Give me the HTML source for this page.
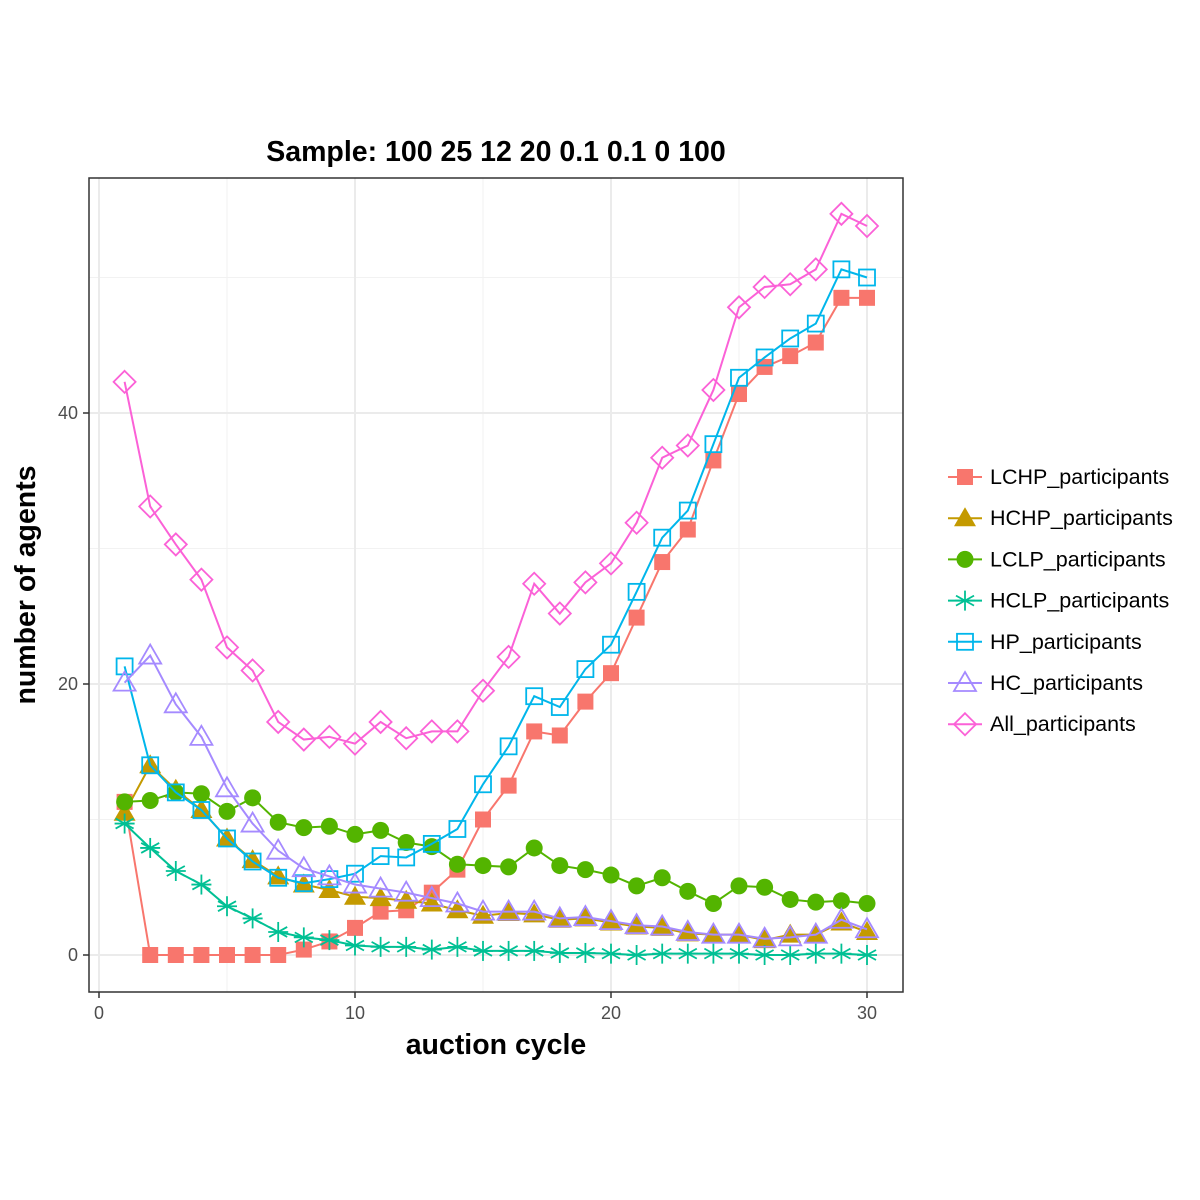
<!DOCTYPE html>
<html><head><meta charset="utf-8"><style>
html,body{margin:0;padding:0;background:#fff;}
svg{display:block;font-family:"Liberation Sans",sans-serif;}
</style></head><body>
<svg id="chart" width="1200" height="1200" viewBox="0 0 1200 1200" xmlns="http://www.w3.org/2000/svg">
<rect width="1200" height="1200" fill="#fff"/>
<g id="grid"></g>
<g id="series"></g>
<rect x="89" y="178" width="814" height="814" fill="none" stroke="#333" stroke-width="1.5"/>
<g id="axes"></g>
<text x="496" y="161" text-anchor="middle" font-size="28.5" font-weight="bold">Sample: 100 25 12 20 0.1 0.1 0 100</text>
<text x="496" y="1054" text-anchor="middle" font-size="28.5" font-weight="bold">auction cycle</text>
<text transform="translate(35,585) rotate(-90)" text-anchor="middle" font-size="28.5" font-weight="bold">number of agents</text>
<g id="legend"></g>
</svg>
<script>
const cycles = [1,2,3,4,5,6,7,8,9,10,11,12,13,14,15,16,17,18,19,20,21,22,23,24,25,26,27,28,29,30];
const lchp = [11.3,0,0,0,0,0,0,0.4,1.0,2.0,3.2,3.3,4.6,6.3,10.0,12.5,16.5,16.2,18.7,20.8,24.9,29.0,31.4,36.5,41.4,43.4,44.2,45.2,48.5,48.5];
const hchp = [10.5,14.0,12.2,10.7,8.6,7.0,5.8,5.2,4.8,4.3,4.2,4.0,3.8,3.3,2.9,3.1,3.0,2.6,2.7,2.4,2.1,2.0,1.6,1.5,1.5,1.1,1.5,1.5,2.4,1.7];
const lclp = [11.3,11.4,12.0,11.9,10.6,11.6,9.8,9.4,9.5,8.9,9.2,8.3,8.0,6.7,6.6,6.5,7.9,6.6,6.3,5.9,5.1,5.7,4.7,3.8,5.1,5.0,4.1,3.9,4.0,3.8];
const hclp = [9.7,7.9,6.2,5.2,3.6,2.7,1.7,1.3,1.1,0.7,0.6,0.6,0.4,0.6,0.3,0.3,0.3,0.15,0.15,0.1,0,0.1,0.1,0.1,0.1,0,0,0.1,0.1,0];
const hp = [21.3,14.0,12.0,10.7,8.6,6.9,5.7,5.3,5.6,6.0,7.3,7.2,8.2,9.3,12.6,15.4,19.1,18.3,21.1,22.9,26.8,30.8,32.8,37.7,42.6,44.1,45.5,46.6,50.6,50.0];
const hc = [20.1,22.1,18.5,16.1,12.3,9.7,7.7,6.4,5.8,5.2,4.9,4.6,4.2,3.8,3.2,3.2,3.2,2.7,2.8,2.5,2.2,2.1,1.7,1.5,1.5,1.2,1.3,1.5,2.6,1.9];
const allp = [42.3,33.1,30.3,27.7,22.7,21.0,17.2,15.9,16.1,15.6,17.2,16.0,16.5,16.5,19.5,22.0,27.4,25.2,27.5,28.9,31.9,36.7,37.6,41.7,47.8,49.3,49.5,50.6,54.7,53.8];
const seriesNames = ["LCHP_participants","HCHP_participants","LCLP_participants","HCLP_participants","HP_participants","HC_participants","All_participants"];
const xTicks = [0,10,20,30];
const yTicks = [0,20,40];
const xMinor = [5,15,25];
const yMinor = [10,30,50];

const NS="http://www.w3.org/2000/svg";
const X = v => 99 + v*25.6;
const Y = v => 955 - v*13.55;
function mk(tag, attrs, parent){const e=document.createElementNS(NS,tag);for(const k in attrs)e.setAttribute(k,attrs[k]);parent.appendChild(e);return e;}
const grid=document.getElementById('grid'), axes=document.getElementById('axes'), ser=document.getElementById('series'), leg=document.getElementById('legend');

xMinor.forEach(v=>{const l=mk('line',{x1:X(v),x2:X(v),y1:178,y2:992,stroke:'#f2f2f2','stroke-width':1},grid);

});
yMinor.forEach(v=>{const l=mk('line',{x1:89,x2:903,y1:Y(v),y2:Y(v),stroke:'#f2f2f2','stroke-width':1},grid);

});
xTicks.forEach(v=>{const l=mk('line',{x1:X(v),x2:X(v),y1:178,y2:992,stroke:'#ebebeb','stroke-width':2},grid);


const t=mk('line',{x1:X(v),x2:X(v),y1:992,y2:998,stroke:'#333','stroke-width':1.5},axes);


const tx=mk('text',{x:X(v),y:1019,'text-anchor':'middle','font-size':18,fill:'#4d4d4d'},axes);tx.textContent=v;

});
yTicks.forEach(v=>{const l=mk('line',{x1:89,x2:903,y1:Y(v),y2:Y(v),stroke:'#ebebeb','stroke-width':2},grid);


const t=mk('line',{x1:83,x2:89,y1:Y(v),y2:Y(v),stroke:'#333','stroke-width':1.5},axes);


const tx=mk('text',{x:78,y:Y(v)+6,'text-anchor':'end','font-size':18,fill:'#4d4d4d'},axes);tx.textContent=v;

});

const colors=["#F8766D","#C49A00","#53B400","#00C094","#00B6EB","#A58AFF","#FB61D7"];
const shapes=["sq","tri","circ","star","osq","otri","odia"];
const data=[lchp,hchp,lclp,hclp,hp,hc,allp];

function marker(shape,cx,cy,c,parent){
  if(shape==='sq') return mk('rect',{x:cx-8,y:cy-8,width:16,height:16,fill:c},parent);
  if(shape==='osq') return mk('rect',{x:cx-8,y:cy-8,width:16,height:16,fill:'none',stroke:c,'stroke-width':1.8},parent);
  if(shape==='circ') return mk('circle',{cx:cx,cy:cy,r:8.5,fill:c},parent);
  if(shape==='tri') return mk('polygon',{points:`${cx},${cy-11} ${cx+11},${cy+8} ${cx-11},${cy+8}`,fill:c},parent);
  if(shape==='otri') return mk('polygon',{points:`${cx},${cy-11} ${cx+11},${cy+8} ${cx-11},${cy+8}`,fill:'none',stroke:c,'stroke-width':1.8},parent);
  if(shape==='odia') return mk('polygon',{points:`${cx},${cy-11} ${cx+11},${cy} ${cx},${cy+11} ${cx-11},${cy}`,fill:'none',stroke:c,'stroke-width':1.8},parent);
  if(shape==='star'){const g=mk('g',{stroke:c,'stroke-width':1.8},parent);
    [[0,-10,0,10],[-9,-5,9,5],[-9,5,9,-5],[-10,0,10,0]].forEach(a=>mk('line',{x1:cx+a[0],y1:cy+a[1],x2:cx+a[2],y2:cy+a[3]},g));return g;}
}

data.forEach((arr,i)=>{
  const g=mk('g',{},ser);
  
  
  const pts=arr.map((v,j)=>X(cycles[j])+','+Y(v)).join(' ');
  const pl=mk('polyline',{points:pts,fill:'none',stroke:colors[i],'stroke-width':2},g);
  
  
  arr.forEach((v,j)=>{const m=marker(shapes[i],X(cycles[j]),Y(v),colors[i],g);
    
    });
});

seriesNames.forEach((n,i)=>{
  const y=477+i*41.2;
  const g=mk('g',{},leg);
  
  
  mk('line',{x1:948,x2:982,y1:y,y2:y,stroke:colors[i],'stroke-width':2},g);
  marker(shapes[i],965,y,colors[i],g);
  const t=mk('text',{x:990,y:y+7,'font-size':21.5,fill:'#000'},g);t.textContent=n;
  
  
});
</script>
</body></html>
